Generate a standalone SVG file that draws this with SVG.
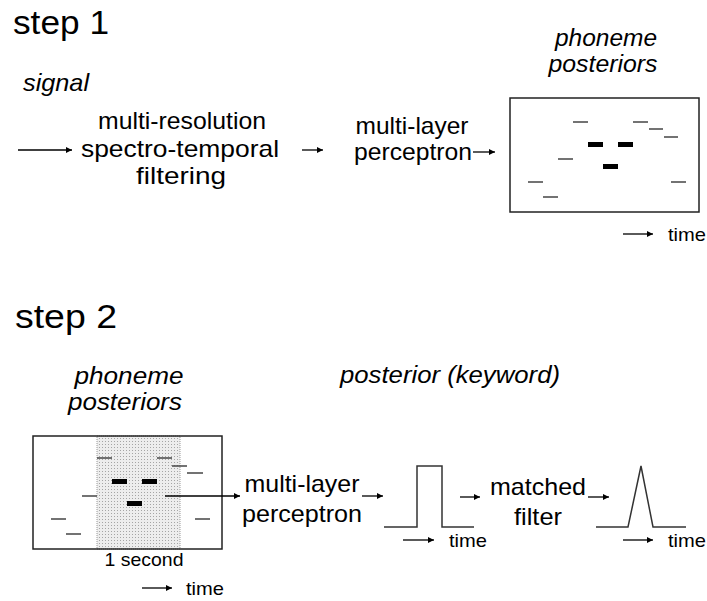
<svg xmlns="http://www.w3.org/2000/svg" width="707" height="601" viewBox="0 0 707 601">
<style>
text{font-family:"Liberation Sans",Arial,sans-serif;fill:#000}
.h{font-size:33px}
.b{font-size:24px}
.i{font-size:24px;font-style:italic}
.s{font-size:19px}
.c{text-anchor:middle}
.box{fill:none;stroke:#222;stroke-width:1.5}
.th{stroke:#444;stroke-width:1.5}
.tk{stroke:#000;stroke-width:5}
.ar{stroke:#000;stroke-width:1.3;fill:none;marker-end:url(#ah)}
.wave{fill:none;stroke:#333;stroke-width:1.5}
</style>
<defs>
<marker id="ah" viewBox="0 0 10 10" refX="10" refY="5" markerWidth="8" markerHeight="6" orient="auto" markerUnits="userSpaceOnUse"><path d="M0,0 L10,5 L0,10 z" fill="#000"/></marker>
<pattern id="dots" width="3" height="3" patternUnits="userSpaceOnUse"><rect width="3" height="3" fill="#ededed"/><rect width="1" height="1" fill="#a5a5a5"/></pattern>
</defs>
<rect width="707" height="601" fill="#fff"/>

<g id="step1-title"><text class="h" x="13" y="34" textLength="96" lengthAdjust="spacingAndGlyphs">step 1</text></g>
<g id="signal-label"><text class="i" x="23" y="91" textLength="66" lengthAdjust="spacingAndGlyphs">signal</text></g>
<g id="filtering">
<text class="b c" x="182" y="129" textLength="168" lengthAdjust="spacingAndGlyphs">multi-resolution</text>
<text class="b c" x="180" y="157" textLength="198" lengthAdjust="spacingAndGlyphs">spectro-temporal</text>
<text class="b c" x="181" y="184" textLength="90" lengthAdjust="spacingAndGlyphs">filtering</text>
</g>
<g id="mlp1">
<text class="b c" x="412" y="134" textLength="113" lengthAdjust="spacingAndGlyphs">multi-layer</text>
<text class="b c" x="413" y="160" textLength="118" lengthAdjust="spacingAndGlyphs">perceptron</text>
</g>
<g id="posteriors1-label">
<text class="i c" x="606" y="46" textLength="102" lengthAdjust="spacingAndGlyphs">phoneme</text>
<text class="i c" x="603" y="72" textLength="109" lengthAdjust="spacingAndGlyphs">posteriors</text>
</g>
<g id="posteriors1">
<rect x="510" y="98" width="189" height="114" fill="#fff"/>
<line class="th" x1="573" y1="122" x2="588" y2="122"/>
<line class="th" x1="633" y1="122" x2="648" y2="122"/>
<line class="th" x1="649" y1="129" x2="663" y2="129"/>
<line class="th" x1="664" y1="137" x2="678" y2="137"/>
<line class="tk" x1="588" y1="144.5" x2="603" y2="144.5"/>
<line class="tk" x1="618" y1="144.5" x2="633" y2="144.5"/>
<line class="th" x1="558" y1="159" x2="573" y2="159"/>
<line class="tk" x1="603" y1="166.5" x2="618" y2="166.5"/>
<line class="th" x1="528" y1="182" x2="543" y2="182"/>
<line class="th" x1="671" y1="182" x2="686" y2="182"/>
<line class="th" x1="543" y1="197" x2="558" y2="197"/>
<rect class="box" x="510" y="98" width="189" height="114"/>
</g>
<g id="time1"><text class="s" x="668" y="241" textLength="38" lengthAdjust="spacingAndGlyphs">time</text></g>

<g id="step2-title"><text class="h" x="15" y="328" textLength="102" lengthAdjust="spacingAndGlyphs">step 2</text></g>
<g id="posteriors2-label">
<text class="i c" x="129" y="384" textLength="109" lengthAdjust="spacingAndGlyphs">phoneme</text>
<text class="i c" x="125" y="410" textLength="114" lengthAdjust="spacingAndGlyphs">posteriors</text>
</g>
<g id="keyword-label"><text class="i" x="340" y="383" textLength="220" lengthAdjust="spacingAndGlyphs">posterior (keyword)</text></g>
<g id="posteriors2">
<rect x="33" y="436" width="189" height="113" fill="#fff"/>
<rect x="97" y="436" width="83" height="113" fill="url(#dots)" stroke="#999" stroke-width="1" stroke-dasharray="1 1"/>
<line class="th" x1="97" y1="458" x2="112" y2="458"/>
<line class="th" x1="157" y1="458" x2="172" y2="458"/>
<line class="th" x1="172" y1="466" x2="187" y2="466"/>
<line class="th" x1="187" y1="473" x2="203" y2="473"/>
<line class="tk" x1="112" y1="481.5" x2="127" y2="481.5"/>
<line class="tk" x1="142" y1="481.5" x2="157" y2="481.5"/>
<line class="th" x1="82" y1="496" x2="97" y2="496"/>
<line class="tk" x1="127" y1="503.5" x2="142" y2="503.5"/>
<line class="th" x1="51" y1="519" x2="66" y2="519"/>
<line class="th" x1="195" y1="519" x2="210" y2="519"/>
<line class="th" x1="66" y1="534" x2="81" y2="534"/>
<rect class="box" x="33" y="436" width="189" height="113"/>
<text class="s c" x="144" y="566" textLength="79" lengthAdjust="spacingAndGlyphs">1 second</text>
</g>
<g id="time2"><text class="s" x="186" y="595" textLength="38" lengthAdjust="spacingAndGlyphs">time</text></g>
<g id="mlp2">
<text class="b c" x="302" y="492" textLength="115" lengthAdjust="spacingAndGlyphs">multi-layer</text>
<text class="b c" x="302" y="522" textLength="120" lengthAdjust="spacingAndGlyphs">perceptron</text>
</g>
<g id="pulse">
<polyline class="wave" points="384,527 417,527 417,466 442,466 442,527 474,527"/>
<text class="s" x="449" y="547" textLength="38" lengthAdjust="spacingAndGlyphs">time</text>
</g>
<g id="matched-filter">
<text class="b c" x="538" y="495" textLength="96" lengthAdjust="spacingAndGlyphs">matched</text>
<text class="b c" x="538" y="525" textLength="48" lengthAdjust="spacingAndGlyphs">filter</text>
</g>
<g id="peak">
<polyline class="wave" points="596,527 628,527 641,466 653,527 686,527"/>
<text class="s" x="668" y="547" textLength="38" lengthAdjust="spacingAndGlyphs">time</text>
</g>

<g id="connectors">
<line class="ar" x1="18" y1="150" x2="72" y2="150"/>
<line class="ar" x1="302" y1="150" x2="323" y2="150"/>
<line class="ar" x1="473" y1="152" x2="495" y2="152"/>
<line class="ar" x1="623" y1="234" x2="653" y2="234"/>
<line class="ar" x1="165" y1="496" x2="240" y2="496"/>
<line class="ar" x1="362" y1="496" x2="383" y2="496"/>
<line class="ar" x1="460" y1="497" x2="480" y2="497"/>
<line class="ar" x1="588" y1="497" x2="609" y2="497"/>
<line class="ar" x1="142" y1="588" x2="172" y2="588"/>
<line class="ar" x1="403" y1="540" x2="434" y2="540"/>
<line class="ar" x1="623" y1="540" x2="653" y2="540"/>
</g>
</svg>
